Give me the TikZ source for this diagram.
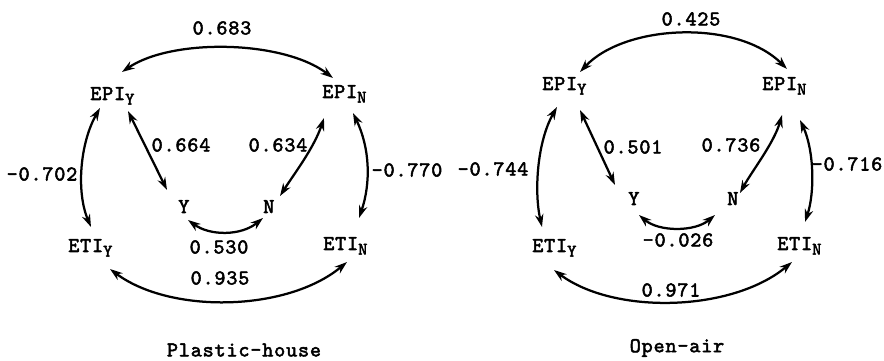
\documentclass[tikz,border=0pt]{standalone}
\usepackage{fontspec}
\usetikzlibrary{arrows.meta}
\newfontfamily\tw[LetterSpace=4,FakeBold=2.4]{lmmono10-regular.otf}
\newcommand\lowsub[1]{\raisebox{-0.5ex}{\fontsize{12.5}{12.5}\selectfont #1}}

\begin{document}
\begin{tikzpicture}[x=0.025cm,y=-0.025cm,
  lab/.style={font=\tw\fontsize{15}{16}\selectfont, inner sep=0pt},
  var/.style={lab, anchor=base west},
  val/.style={lab, anchor=center},
  link/.style={{Stealth[length=9pt,width=6pt]}-{Stealth[length=9pt,width=6pt]}, line width=1.6pt}]
\useasboundingbox (0,0) rectangle (884,361);

% ---------- Plastic-house ----------
\node[var] (eY1) at (90,100)  {EPI\lowsub{Y}};
\node[var] (eN1) at (322,98)  {EPI\lowsub{N}};
\node[var] (y1)  at (178,213) {Y};
\node[var] (n1)  at (263,213) {N};
\node[var] (tY1) at (68,252)  {ETI\lowsub{Y}};
\node[var] (tN1) at (323,250) {ETI\lowsub{N}};

\draw[link] ([shift={(32,-28)}]eY1.base west) .. controls +(50,-34) and +(-50,-38) .. ([shift={(11,-20)}]eN1.base west);
\draw[link] ([shift={(10,8)}]eY1.base west) .. controls +(-20,35) and +(-15,-35) .. ([shift={(23,-25)}]tY1.base west);
\draw[link] ([shift={(31,15)}]eN1.base west) .. controls +(17,35) and +(12,-35) .. ([shift={(36,-32)}]tN1.base west);
\draw[link] ([shift={(38,11)}]eY1.base west) -- ([shift={(-11,-23)}]y1.base west);
\draw[link] ([shift={(2,20)}]eN1.base west) .. controls +(-10,30) and +(14,-22) .. ([shift={(17,-17)}]n1.base west);
\draw[link] ([shift={(10,7)}]y1.base west) .. controls +(22,16) and +(-22,18) .. ([shift={(0,5)}]n1.base west);
\draw[link] ([shift={(42,17)}]tY1.base west) .. controls +(60,45) and +(-60,50) .. ([shift={(24,12)}]tN1.base west);

\node[val] (a1) at (222,28)  {0.683};
\node[val] (b1) at (42,174)  {-0.702};
\node[val] (c1) at (407,170) {-0.770};
\node[val] (d1) at (181,145) {0.664};
\node[val] (e1) at (278,145) {0.634};
\node[val] (f1) at (219,247) {0.530};
\node[val] (g1) at (220,278) {0.935};
\node[val] (h1) at (244,350) {Plastic-house};

% ---------- Open-air ----------
\node[var] (eY2) at (542,90)  {EPI\lowsub{Y}};
\node[var] (eN2) at (762,90)  {EPI\lowsub{N}};
\node[var] (y2)  at (628,205) {Y};
\node[var] (n2)  at (727,205) {N};
\node[var] (tY2) at (532,252) {ETI\lowsub{Y}};
\node[var] (tN2) at (777,250) {ETI\lowsub{N}};

\draw[link] ([shift={(38,-18)}]eY2.base west) .. controls +(45,-48) and +(-50,-50) .. ([shift={(25,-21)}]eN2.base west);
\draw[link] ([shift={(15,17)}]eY2.base west) .. controls +(-20,35) and +(-8,-35) .. ([shift={(10,-25)}]tY2.base west);
\draw[link] ([shift={(38,30)}]eN2.base west) .. controls +(14,30) and +(10,-30) .. ([shift={(28,-28)}]tN2.base west);
\draw[link] ([shift={(38,20)}]eY2.base west) -- ([shift={(-13,-20)}]y2.base west);
\draw[link] ([shift={(20,25)}]eN2.base west) .. controls +(-8,28) and +(12,-22) .. ([shift={(13,-12)}]n2.base west);
\draw[link] ([shift={(11,10)}]y2.base west) .. controls +(20,17) and +(-20,17) .. ([shift={(-12,10)}]n2.base west);
\draw[link] ([shift={(22,18)}]tY2.base west) .. controls +(60,45) and +(-60,50) .. ([shift={(15,12)}]tN2.base west);

\node[val] (a2) at (691,19)  {0.425};
\node[val] (b2) at (493,169) {-0.744};
\node[val] (c2) at (847,164) {-0.716};
\node[val] (d2) at (633,147) {0.501};
\node[val] (e2) at (731,145) {0.736};
\node[val] (f2) at (678,240) {-0.026};
\node[val] (g2) at (671,290) {0.971};
\node[val] (h2) at (677,348) {Open-air};
\end{tikzpicture}
\end{document}
